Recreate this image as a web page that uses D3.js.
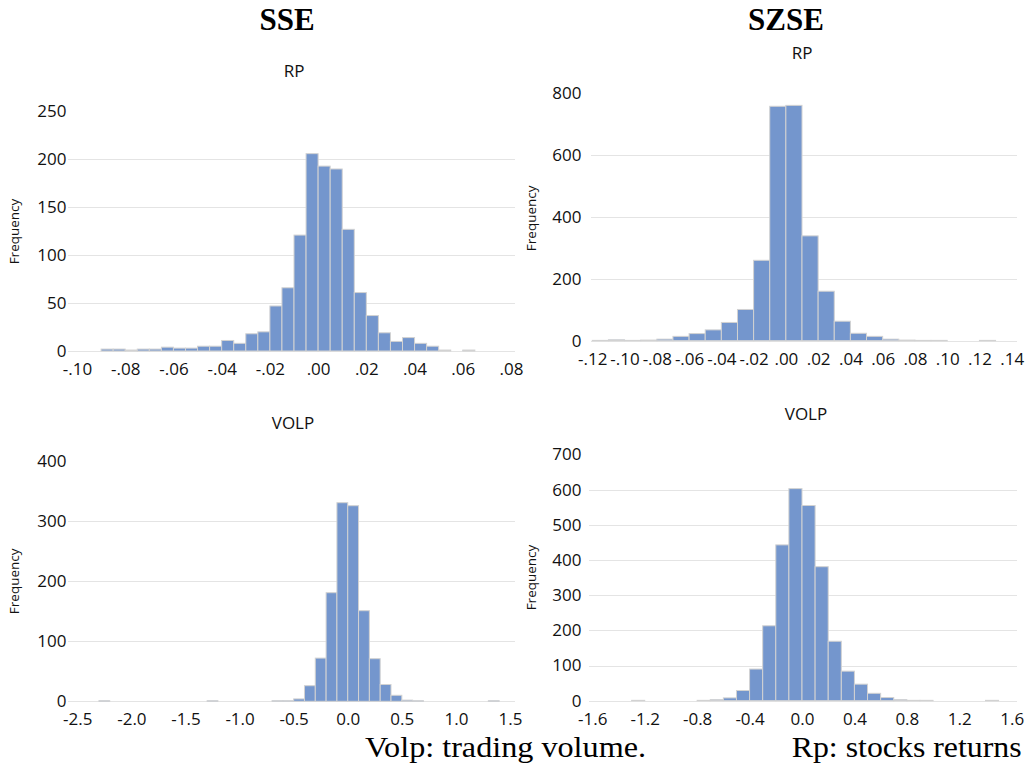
<!DOCTYPE html>
<html>
<head>
<meta charset="utf-8">
<script src="https://cdn.jsdelivr.net/npm/d3@7/dist/d3.min.js"></script>
<style>
  html, body { margin: 0; padding: 0; background: #fff; }
  svg { display: block; }
</style>
</head>
<body>
<svg id="chart" width="1035" height="765"></svg>
<script>
// ---------- DATA ----------
// SSE - RP (returns), bins of width 0.005
const sseRpBinStarts = [-0.090,-0.085,-0.080,-0.075,-0.070,-0.065,-0.060,-0.055,-0.050,-0.045,-0.040,-0.035,-0.030,-0.025,-0.020,-0.015,-0.010,-0.005,0.000,0.005,0.010,0.015,0.020,0.025,0.030,0.035,0.040,0.045,0.050,0.055,0.060];
const sseRpCounts    = [2,2,1,2,2,4,3,3,5,5,11,8,18,20,47,66,121,206,193,190,127,61,37,19,10,14,8,5,1,0,1];
const sseRpBinWidth = 0.005;
const sseRpXTicks = [-0.10,-0.08,-0.06,-0.04,-0.02,0.00,0.02,0.04,0.06,0.08];
const sseRpXLabels = ["-.10","-.08","-.06","-.04","-.02",".00",".02",".04",".06",".08"];
const sseRpYTicks = [0,50,100,150,200,250];
const sseRpGrid = [0,50,100,150,200];

// SZSE - RP (returns), bins of width 0.01
const szseRpBinStarts = [-0.12,-0.11,-0.10,-0.09,-0.08,-0.07,-0.06,-0.05,-0.04,-0.03,-0.02,-0.01,0.00,0.01,0.02,0.03,0.04,0.05,0.06,0.07,0.08,0.09,0.10,0.11,0.12];
const szseRpCounts    = [1,3,1,2,5,14,23,35,59,101,260,758,761,339,160,63,24,14,5,2,1,1,0,0,1];
const szseRpBinWidth = 0.01;
const szseRpXTicks = [-0.12,-0.10,-0.08,-0.06,-0.04,-0.02,0.00,0.02,0.04,0.06,0.08,0.10,0.12,0.14];
const szseRpXLabels = ["-.12","-.10","-.08","-.06","-.04","-.02",".00",".02",".04",".06",".08",".10",".12",".14"];
const szseRpYTicks = [0,200,400,600,800];
const szseRpGrid = [0,200,400,600];

// SSE - VOLP (trading volume), bins of width 0.1
const sseVolBinStarts = [-2.3,-1.3,-0.7,-0.6,-0.5,-0.4,-0.3,-0.2,-0.1,0.0,0.1,0.2,0.3,0.4,0.5,0.6,1.3];
const sseVolCounts    = [1,1,1,1,4,26,72,181,331,326,151,71,28,10,2,1,1];
const sseVolBinWidth = 0.1;
const sseVolXTicks = [-2.5,-2.0,-1.5,-1.0,-0.5,0.0,0.5,1.0,1.5];
const sseVolXLabels = ["-2.5","-2.0","-1.5","-1.0","-0.5","0.0","0.5","1.0","1.5"];
const sseVolYTicks = [0,100,200,300,400];
const sseVolGrid = [0,100,200,300];

// SZSE - VOLP (trading volume), bins of width 0.1
const szseVolBinStarts = [-1.3,-0.8,-0.7,-0.6,-0.5,-0.4,-0.3,-0.2,-0.1,0.0,0.1,0.2,0.3,0.4,0.5,0.6,0.7,0.8,0.9,1.4];
const szseVolCounts    = [1,1,3,8,29,90,213,443,603,555,381,169,84,47,21,9,3,1,1,1];
const szseVolBinWidth = 0.1;
const szseVolXTicks = [-1.6,-1.2,-0.8,-0.4,0.0,0.4,0.8,1.2,1.6];
const szseVolXLabels = ["-1.6","-1.2","-0.8","-0.4","0.0","0.4","0.8","1.2","1.6"];
const szseVolYTicks = [0,100,200,300,400,500,600,700];
const szseVolGrid = [0,100,200,300,400,500,600];

const headers = ["SSE","SZSE"];
const panelTitles = ["RP","RP","VOLP","VOLP"];
const yAxisTitle = "Frequency";
const notes = ["Volp: trading volume.","Rp: stocks returns"];

// ---------- STYLE ----------
const BAR_FILL = "#7496cd";
const BAR_STROKE = "#d2d2d2";
const GRID = "#e4e4e4";
const SANS = "'Open Sans', 'Noto Sans', sans-serif";
const SERIF = "'Liberation Serif', 'Times New Roman', serif";
const TICK_SIZE = 17;

const svg = d3.select("#chart");

function drawPanel(p) {
  const g = svg.append("g");
  const x = d3.scaleLinear().domain(p.xDomain).range(p.xRange);
  const y = d3.scaleLinear().domain(p.yDomain).range(p.yRange);

  // gridlines
  g.append("g").selectAll("line").data(p.grid).join("line")
    .attr("x1", p.gridX[0]).attr("x2", p.gridX[1])
    .attr("y1", d => Math.round(y(d)) + 0.5).attr("y2", d => Math.round(y(d)) + 0.5)
    .attr("stroke", GRID).attr("stroke-width", 1);

  // bars
  const bins = p.starts.map((s, i) => ({x0: s, x1: s + p.binWidth, n: p.counts[i]})).filter(d => d.n > 0);
  g.append("g").selectAll("rect").data(bins).join("rect")
    .attr("x", d => x(d.x0))
    .attr("width", d => x(d.x1) - x(d.x0))
    .attr("y", d => y(d.n))
    .attr("height", d => y(0) - y(d.n))
    .attr("fill", BAR_FILL)
    .attr("stroke", BAR_STROKE)
    .attr("stroke-width", 1);

  // y axis
  const ya = g.append("g")
    .attr("transform", `translate(${p.yLabelRight},0)`)
    .call(d3.axisLeft(y).tickValues(p.yTicks).tickSize(0).tickPadding(0).tickFormat(d3.format("d")));
  ya.select(".domain").remove();
  ya.selectAll("text").attr("font-family", SANS).attr("font-size", TICK_SIZE).attr("fill", "#111");

  // x axis
  const xa = g.append("g")
    .attr("transform", `translate(0,${p.xLabelBaseline - 12.3})`)
    .call(d3.axisBottom(x).tickValues(p.xTicks).tickSize(0).tickPadding(0)
      .tickFormat((d, i) => p.xLabels[i]));
  xa.select(".domain").remove();
  xa.selectAll("text").attr("font-family", SANS).attr("font-size", TICK_SIZE).attr("fill", "#111");

  // Frequency label
  g.append("text")
    .attr("transform", `translate(${p.freq[0]},${p.freq[1]}) rotate(-90)`)
    .attr("text-anchor", "middle")
    .attr("dominant-baseline", "central")
    .attr("font-family", SANS).attr("font-size", 13.5).attr("fill", "#111")
    .text(yAxisTitle);

  // panel title
  g.append("text")
    .attr("x", p.title[0]).attr("y", p.title[1])
    .attr("text-anchor", "middle")
    .attr("font-family", SANS).attr("font-size", 17).attr("fill", "#111")
    .text(p.titleText);
}

drawPanel({
  starts: sseRpBinStarts, counts: sseRpCounts, binWidth: sseRpBinWidth,
  xTicks: sseRpXTicks, xLabels: sseRpXLabels, yTicks: sseRpYTicks, grid: sseRpGrid,
  xDomain: [-0.10, 0.08], xRange: [77, 511], yDomain: [0, 250], yRange: [351, 111.5],
  gridX: [68, 515], yLabelRight: 66.5, xLabelBaseline: 375, freq: [14, 231.5],
  title: [294, 76.5], titleText: panelTitles[0]
});
drawPanel({
  starts: szseRpBinStarts, counts: szseRpCounts, binWidth: szseRpBinWidth,
  xTicks: szseRpXTicks, xLabels: szseRpXLabels, yTicks: szseRpYTicks, grid: szseRpGrid,
  xDomain: [-0.12, 0.14], xRange: [592.3, 1011.7], yDomain: [0, 800], yRange: [340.7, 93.3],
  gridX: [591, 1017], yLabelRight: 581.5, xLabelBaseline: 365, freq: [531, 218.3],
  title: [802, 59.3], titleText: panelTitles[1]
});
drawPanel({
  starts: sseVolBinStarts, counts: sseVolCounts, binWidth: sseVolBinWidth,
  xTicks: sseVolXTicks, xLabels: sseVolXLabels, yTicks: sseVolYTicks, grid: sseVolGrid,
  xDomain: [-2.5, 1.5], xRange: [77.3, 510], yDomain: [0, 400], yRange: [701.3, 461.3],
  gridX: [68, 515], yLabelRight: 66.5, xLabelBaseline: 725, freq: [14, 581.3],
  title: [293, 429], titleText: panelTitles[2]
});
drawPanel({
  starts: szseVolBinStarts, counts: szseVolCounts, binWidth: szseVolBinWidth,
  xTicks: szseVolXTicks, xLabels: szseVolXLabels, yTicks: szseVolYTicks, grid: szseVolGrid,
  xDomain: [-1.6, 1.6], xRange: [592.3, 1011.7], yDomain: [0, 700], yRange: [700.7, 454.5],
  gridX: [589, 1017], yLabelRight: 581.5, xLabelBaseline: 725, freq: [531, 577.5],
  title: [806, 420], titleText: panelTitles[3]
});

// headers
svg.append("g").selectAll("text").data(headers).join("text")
  .attr("x", (d, i) => [287, 786][i]).attr("y", 30)
  .attr("text-anchor", "middle")
  .attr("font-family", SERIF).attr("font-weight", "bold").attr("font-size", 31)
  .attr("fill", "#000")
  .text(d => d);

// bottom notes
svg.append("g").selectAll("text").data(notes).join("text")
  .attr("x", (d, i) => [365, 791.7][i]).attr("y", 757)
  .attr("textLength", (d, i) => [281, 230][i])
  .attr("lengthAdjust", "spacingAndGlyphs")
  .attr("font-family", SERIF).attr("font-size", 30)
  .attr("fill", "#000")
  .text(d => d);
</script>
</body>
</html>
